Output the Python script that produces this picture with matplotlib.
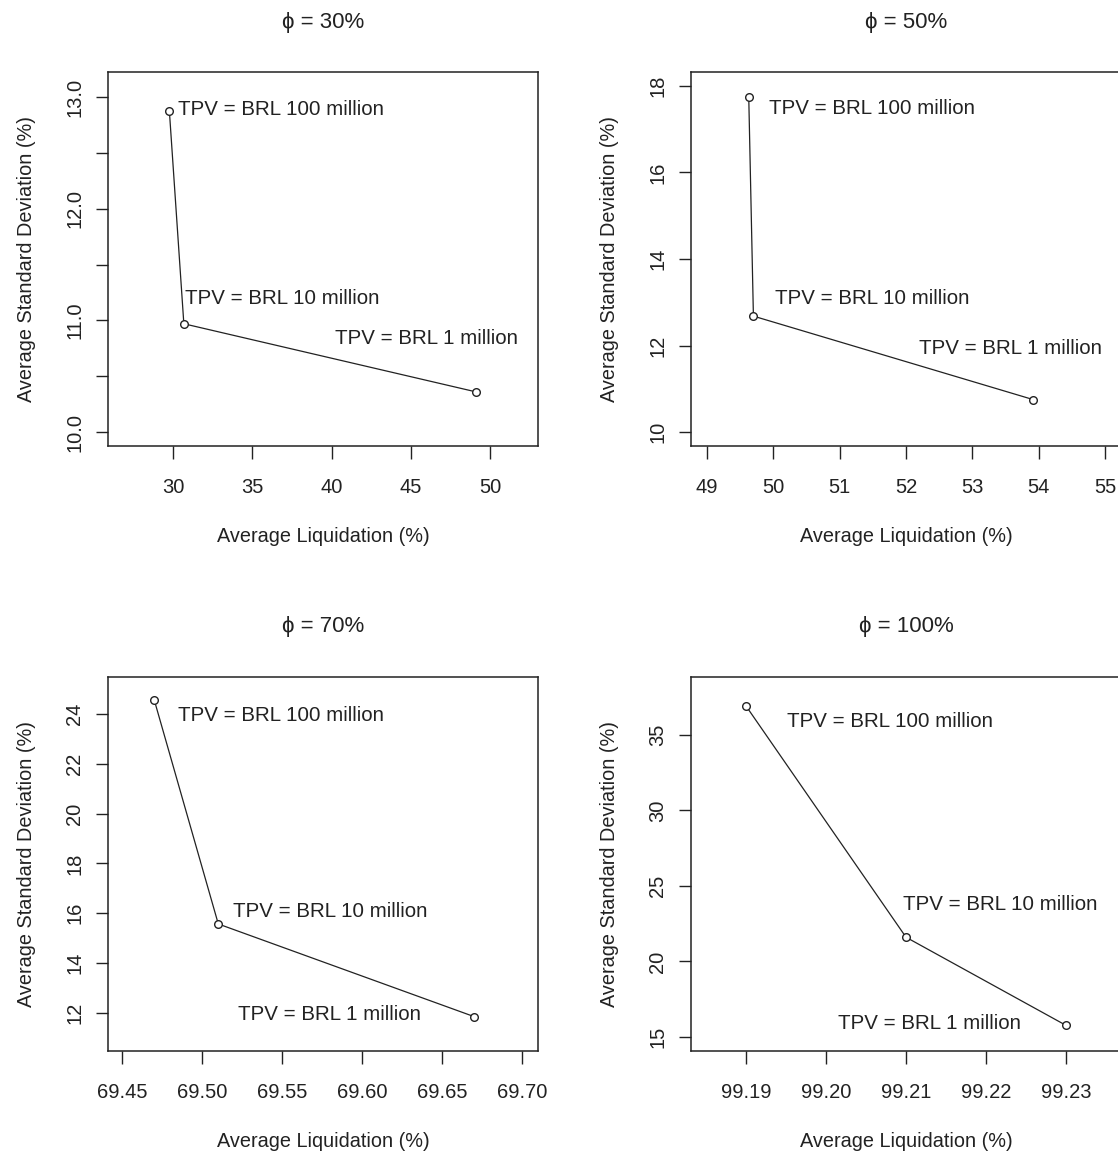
import matplotlib
matplotlib.use('Agg')
import matplotlib.pyplot as plt
import numpy as np

plt.rcParams.update({
    'font.family': ['Liberation Sans', 'DejaVu Sans'],
    'font.size': 14.5,
    'text.color': '#222222',
    'axes.labelcolor': '#222222',
    'xtick.color': '#222222',
    'ytick.color': '#222222',
})

# values
titles = ['\u03d5 = 30%', '\u03d5 = 50%', '\u03d5 = 70%', '\u03d5 = 100%']
tpv_labels = ['TPV = BRL 100 million', 'TPV = BRL 10 million', 'TPV = BRL 1 million']

liq_30 = [29.77, 30.68, 49.1]
sd_30 = [12.87, 10.97, 10.36]
liq_50 = [49.63, 49.70, 53.92]
sd_50 = [17.73, 12.68, 10.75]
liq_70 = [69.47, 69.51, 69.67]
sd_70 = [24.55, 15.57, 11.85]
liq_100 = [99.19, 99.21, 99.23]
sd_100 = [36.9, 21.6, 15.77]

# label anchor (left edge) positions per panel, data units
lab_x_30 = [30.3, 30.76, 40.2]
lab_y_30 = [12.89, 11.2, 10.84]
lab_x_50 = [49.94, 50.02, 52.19]
lab_y_50 = [17.47, 13.08, 11.94]
lab_x_70 = [69.485, 69.519, 69.5225]
lab_y_70 = [23.96, 16.06, 11.94]
lab_x_100 = [99.1951, 99.2096, 99.2015]
lab_y_100 = [35.86, 23.74, 15.86]

panels = [
    dict(x=liq_30, y=sd_30, lx=lab_x_30, ly=lab_y_30, xlim=(25.9, 53.0), ylim=(9.876, 13.224),
         xt=[30, 35, 40, 45, 50], yt=np.arange(10.0, 13.01, 0.5), ylab_fmt='{:.1f}', xlab_fmt='{:g}',
         pos=[0.0966, 0.6132]),
    dict(x=liq_50, y=sd_50, lx=lab_x_50, ly=lab_y_50, xlim=(48.76, 55.24), ylim=(9.68, 18.32),
         xt=[49, 50, 51, 52, 53, 54, 55], yt=[10, 12, 14, 16, 18], ylab_fmt='{:g}', xlab_fmt='{:g}',
         pos=[0.6181, 0.6132]),
    dict(x=liq_70, y=sd_70, lx=lab_x_70, ly=lab_y_70, xlim=(69.441, 69.71), ylim=(10.47, 25.49),
         xt=[69.45, 69.50, 69.55, 69.60, 69.65, 69.70], yt=[12, 14, 16, 18, 20, 22, 24], ylab_fmt='{:g}',
         xlab_fmt='{:.2f}', pos=[0.0966, 0.0885]),
    dict(x=liq_100, y=sd_100, lx=lab_x_100, ly=lab_y_100, xlim=(99.1831, 99.2369), ylim=(14.07, 38.84),
         xt=[99.19, 99.20, 99.21, 99.22, 99.23], yt=[15, 20, 25, 30, 35], ylab_fmt='{:g}',
         xlab_fmt='{:.2f}', pos=[0.6181, 0.0885]),
]

fig = plt.figure(figsize=(11.18, 11.53), dpi=100)

for p, title in zip(panels, titles):
    ax = fig.add_axes([p['pos'][0], p['pos'][1], 0.3846, 0.3244])
    ax.plot(p['x'], p['y'], color='#222222', lw=0.9, marker='o', ms=5.5,
            mfc='white', mec='#222222', mew=1.0)
    for tx, ty, s in zip(p['lx'], p['ly'], tpv_labels):
        ax.text(tx, ty, s, ha='left', va='center', fontsize=14.8)
    ax.set_xlim(*p['xlim'])
    ax.set_ylim(*p['ylim'])
    ax.set_xticks(p['xt'])
    ax.set_xticklabels([p['xlab_fmt'].format(v) for v in p['xt']])
    ax.set_yticks(p['yt'])
    ylabels = []
    for v in p['yt']:
        # R drops labels that would overlap: only whole numbers shown here
        if p['ylab_fmt'] == '{:.1f}' and abs(v - round(v)) > 1e-6:
            ylabels.append('')
        else:
            ylabels.append(p['ylab_fmt'].format(v))
    ax.set_yticklabels(ylabels, rotation=90, va='center')
    ax.tick_params(direction='out', length=9, width=1.0, labelsize=14.5)
    ax.tick_params(axis='x', pad=14)
    ax.tick_params(axis='y', pad=8)
    for sp in ax.spines.values():
        sp.set_linewidth(1.1)
        sp.set_color('#222222')
    ax.set_xlabel('Average Liquidation (%)', labelpad=22, fontsize=14.3)
    ax.set_ylabel('Average Standard Deviation (%)', labelpad=21, fontsize=14.3)
    ax.set_title(title, pad=32, fontsize=16)

fig.savefig('out.png', dpi=100)
